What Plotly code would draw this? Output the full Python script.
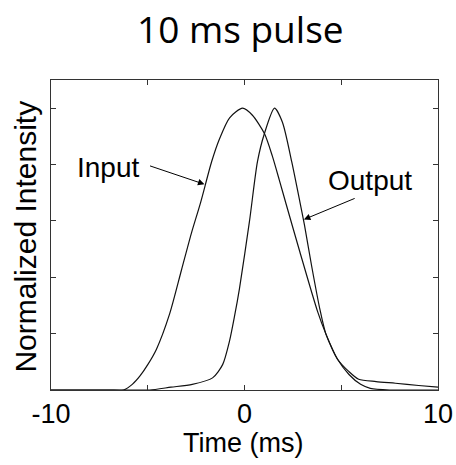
import plotly.graph_objects as go

# Input pulse (time in ms, normalized intensity)
input_t = [-10, -7.0, -6.25, -5.8, -5.4, -5.0, -4.55, -3.87, -3.26, -2.75, -2.27, -1.7, -1.3, -0.77,
           -0.1, 0.41, 1.03, 1.44, 1.8, 2.15, 2.84, 3.77, 4.2, 4.8, 5.4, 6.0, 6.5, 7.5, 10]
input_v = [0.0, 0.0, 0.0, 0.02, 0.05, 0.09, 0.145, 0.27, 0.425, 0.555, 0.665, 0.81, 0.89, 0.966,
           1.0, 0.975, 0.91, 0.83, 0.745, 0.66, 0.495, 0.28, 0.2, 0.11, 0.055, 0.02, 0.006, 0.0, 0.0]

# Output pulse
output_t = [-10, -6.0, -4.9, -3.8, -2.7, -1.65, -1.13, -0.77, -0.52, -0.26, 0.26, 0.67, 1.03,
            1.55, 1.96, 2.44, 2.87, 3.1, 3.47, 3.9, 4.2, 4.8, 5.4, 5.9, 6.8, 7.8, 9.0, 10]
output_v = [0.0, 0.0, 0.0, 0.01, 0.02, 0.043, 0.09, 0.175, 0.26, 0.36, 0.60, 0.81, 0.91,
            1.0, 0.95, 0.81, 0.665, 0.585, 0.44, 0.285, 0.2, 0.11, 0.065, 0.038, 0.03, 0.024, 0.016, 0.01]

x_tickvals = [-10, -5, 0, 5, 10]
x_ticktext = ["-10", "", "0", "", "10"]
y_tickvals = [0.2, 0.4, 0.6, 0.8, 1.0]

fig = go.Figure()
fig.add_trace(go.Scatter(x=input_t, y=input_v, mode="lines", name="Input",
                         line=dict(color="#111", width=1.2, shape="spline", smoothing=0.7)))
fig.add_trace(go.Scatter(x=output_t, y=output_v, mode="lines", name="Output",
                         line=dict(color="#111", width=1.2, shape="spline", smoothing=0.7)))

axis_font = dict(family="Liberation Sans, Arial, sans-serif", size=27, color="#000")

fig.update_layout(
    width=456, height=465,
    margin=dict(l=51, r=18, t=80, b=75, autoexpand=False),
    paper_bgcolor="white", plot_bgcolor="white",
    showlegend=False,
    title=dict(text="10 ms pulse", x=0.527, xanchor="center", y=0.935, yanchor="middle",
               font=dict(family="Open Sans, Noto Sans, sans-serif", size=37, color="#000")),
    xaxis=dict(range=[-10, 10], tickvals=x_tickvals, ticktext=x_ticktext, automargin=False,
               ticks="inside", ticklen=5, tickcolor="#333", showgrid=False, zeroline=False,
               showline=True, linecolor="#333", linewidth=1, mirror="ticks",
               tickfont=axis_font),
    yaxis=dict(range=[0, 1.1], tickvals=y_tickvals, showticklabels=False, automargin=False,
               ticks="inside", ticklen=5, tickcolor="#333", showgrid=False, zeroline=False,
               showline=True, linecolor="#333", linewidth=1, mirror="ticks"),
)

# Axis titles
fig.add_annotation(text="Time (ms)", xref="paper", yref="paper", x=0.496, y=-0.171,
                   xanchor="center", yanchor="middle", showarrow=False, font=axis_font)
fig.add_annotation(text="Normalized Intensity", xref="paper", yref="paper", x=-0.067, y=0.495,
                   xanchor="center", yanchor="middle", textangle=-90, showarrow=False,
                   font=dict(family="Liberation Sans, Arial, sans-serif", size=30, color="#000"))

label_font = dict(family="Liberation Sans, Arial, sans-serif", size=28, color="#000")
fig.add_annotation(x=-7.05, y=0.79, text="Input", showarrow=False, font=label_font)
fig.add_annotation(x=6.48, y=0.745, text="Output", showarrow=False, font=label_font)
fig.add_annotation(x=-2.07, y=0.73, ax=-4.96, ay=0.797, axref="x", ayref="y", text="",
                   showarrow=True, arrowhead=2, arrowsize=1.3, arrowwidth=1, arrowcolor="#000")
fig.add_annotation(x=3.07, y=0.605, ax=5.77, ay=0.682, axref="x", ayref="y", text="",
                   showarrow=True, arrowhead=2, arrowsize=1.3, arrowwidth=1, arrowcolor="#000")

fig.write_html("out.html", config={"displayModeBar": False},
               post_script="document.body.style.margin='0';")
